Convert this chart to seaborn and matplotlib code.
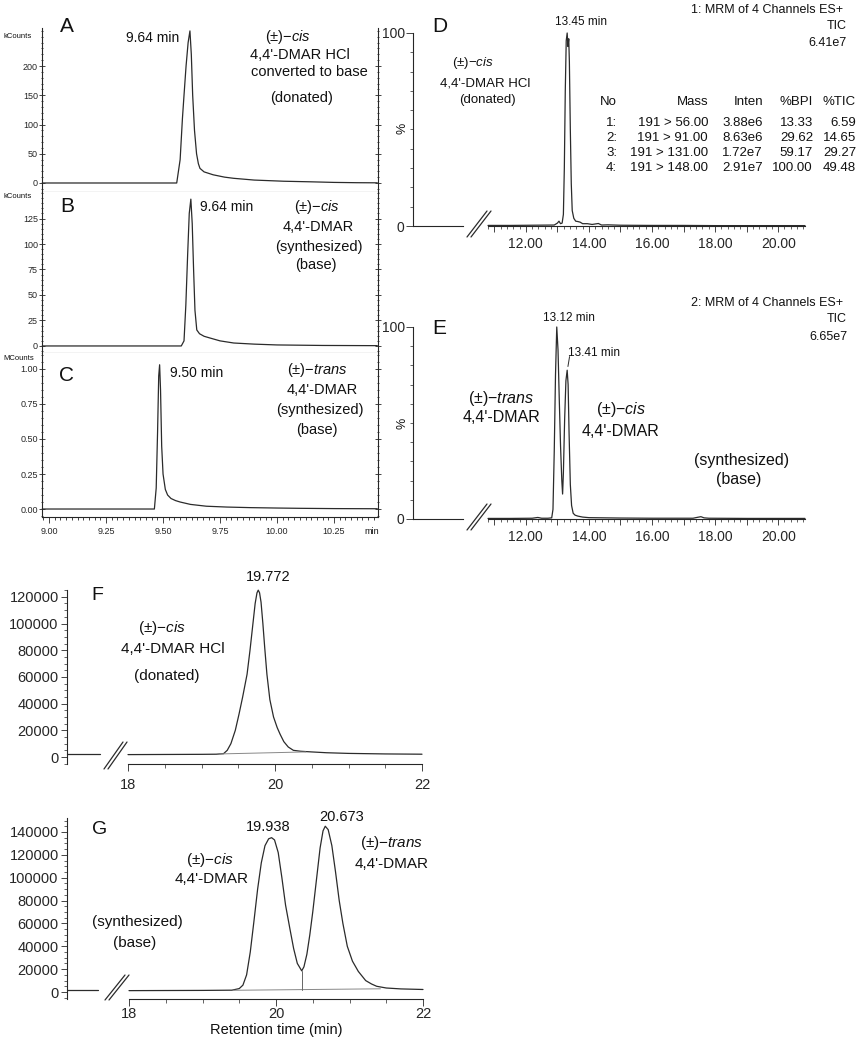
import seaborn as sns
import matplotlib.pyplot as plt
from matplotlib.ticker import MultipleLocator, FuncFormatter, FormatStrFormatter
from matplotlib.lines import Line2D

sns.set_style("ticks")
plt.rcParams['font.family'] = ['Liberation Sans', 'DejaVu Sans']
plt.rcParams['mathtext.fontset'] = 'custom'
plt.rcParams['mathtext.it'] = 'Liberation Sans:italic'
plt.rcParams['mathtext.rm'] = 'Liberation Sans'

# ---- data ----
# A: cis HCl converted to base (kCounts)
A_t = [8.97, 9.20, 9.40, 9.52, 9.560, 9.575, 9.585, 9.592, 9.601, 9.610, 9.618, 9.624, 9.630,
       9.638, 9.647, 9.655, 9.662, 9.68, 9.72, 9.77, 9.81, 9.90, 10.03, 10.15, 10.25, 10.35, 10.44]
A_v = [0, 0, 0, 0, 0, 40, 110, 150, 200, 240, 260, 220, 150,
       90, 50, 33, 25, 19, 14, 10, 8, 5, 3, 2, 1, 0.5, 0.3]
# B: cis synthesized (kCounts)
B_t = [8.97, 9.40, 9.58, 9.592, 9.600, 9.608, 9.615, 9.622, 9.628, 9.634, 9.640, 9.648, 9.66,
       9.68, 9.706, 9.75, 9.81, 9.90, 10.0, 10.2, 10.44]
B_v = [0, 0, 0, 5, 40, 90, 130, 144, 120, 75, 35, 15.7, 12,
       9.5, 7.8, 5, 2.9, 1.8, 1.0, 0.5, 0.3]
# C: trans synthesized (MCounts)
C_t = [8.97, 9.30, 9.45, 9.462, 9.470, 9.476, 9.481, 9.485, 9.489, 9.494, 9.500, 9.510, 9.520,
       9.535, 9.555, 9.575, 9.62, 9.69, 9.78, 9.88, 10.0, 10.10, 10.25, 10.44]
C_v = [0, 0, 0, 0, 0.15, 0.55, 0.95, 1.03, 0.85, 0.45, 0.25, 0.14, 0.10,
       0.075, 0.06, 0.05, 0.033, 0.02, 0.014, 0.01, 0.007, 0.005, 0.003, 0.002]
# D: LC-MS/MS TIC, cis donated (%)
D_t = [10.8, 11.5, 12.2, 12.9, 13.00, 13.05, 13.10, 13.15, 13.19, 13.22, 13.25, 13.28, 13.31,
       13.335, 13.36, 13.38, 13.41, 13.44, 13.47, 13.52, 13.58, 13.65, 13.72, 13.80, 13.95,
       14.1, 14.3, 14.4, 14.6, 15.0, 16.0, 17.0, 18.0, 19.0, 20.0, 20.85]
D_v = [0.3, 0.3, 0.4, 0.5, 1.5, 2.5, 1.2, 1.5, 6, 30, 70, 96, 100,
       93, 97, 85, 50, 22, 8, 4, 2.5, 2.3, 2, 1.2, 1.2,
       0.8, 1.3, 0.5, 0.6, 0.4, 0.3, 0.3, 0.2, 0.2, 0.2, 0.2]
# E: LC-MS/MS TIC, synthesized mixture (%)
E_t = [10.8, 11.5, 12.2, 12.38, 12.5, 12.7, 12.82, 12.86, 12.90, 12.94, 12.98, 13.02, 13.06,
       13.10, 13.14, 13.165, 13.19, 13.23, 13.27, 13.31, 13.34, 13.37, 13.41, 13.45, 13.50,
       13.56, 13.65, 13.8, 14.0, 15.0, 16.0, 17.3, 17.45, 17.55, 17.65, 17.8, 19.0, 20.0, 20.85]
E_v = [0.3, 0.3, 0.4, 0.8, 0.4, 0.4, 0.6, 5, 35, 75, 100, 88, 62,
       38, 20, 13, 24, 52, 72, 77.5, 70, 45, 18, 7, 3,
       2, 1.5, 1, 0.7, 0.5, 0.4, 0.4, 0.9, 1.2, 0.6, 0.4, 0.3, 0.3, 0.3]
# F: HPLC, cis donated
F_left_t = [0, 1]
F_left_v = [2000, 2000]
F_t = [18.0, 18.5, 19.0, 19.2, 19.30, 19.35, 19.40, 19.46, 19.51, 19.56, 19.62, 19.66, 19.70,
       19.73, 19.755, 19.772, 19.79, 19.81, 19.835, 19.86, 19.89, 19.93, 19.98, 20.03, 20.07,
       20.12, 20.18, 20.25, 20.35, 20.5, 20.7, 21.0, 21.5, 22.0]
F_v = [1800, 1900, 2000, 2100, 2500, 5000, 10000, 20000, 32000, 45000, 62000, 80000, 100000,
       115000, 123000, 125000, 123000, 116000, 100000, 82000, 62000, 43000, 30000, 22000, 17000,
       11500, 7500, 5000, 4300, 3800, 3200, 2700, 2300, 2100]
F_base_t = [19.25, 20.42]
F_base_v = [2300, 3800]
# G: HPLC, synthesized mixture
G_left_t = [0, 1]
G_left_v = [1500, 1500]
G_t = [18.0, 18.5, 19.0, 19.4, 19.5, 19.55, 19.60, 19.65, 19.70, 19.75, 19.80, 19.85, 19.90,
       19.94, 19.98, 20.03, 20.08, 20.13, 20.19, 20.24, 20.29, 20.35, 20.38, 20.42, 20.46,
       20.50, 20.55, 20.60, 20.64, 20.67, 20.71, 20.76, 20.81, 20.86, 20.91, 20.97, 21.04,
       21.12, 21.22, 21.30, 21.37, 21.5, 21.7, 22.0]
G_v = [1200, 1300, 1400, 1600, 3000, 6000, 15000, 35000, 62000, 90000, 113000, 128000, 134000,
       135000, 133000, 122000, 100000, 76000, 55000, 38000, 25000, 18500, 22000, 33000, 50000,
       70000, 98000, 126000, 141000, 145000, 142000, 128000, 105000, 80000, 60000, 40000, 27000,
       18000, 10000, 7000, 5000, 3500, 2700, 2200]
G_base_t = [19.42, 21.42]
G_base_v = [1500, 2800]
G_drop_t = [20.35, 20.35]
G_drop_v = [2100, 18500]

# MRM table of panel D
tab_no = ["1:", "2:", "3:", "4:"]
tab_mass = ["191 > 56.00", "191 > 91.00", "191 > 131.00", "191 > 148.00"]
tab_inten = ["3.88e6", "8.63e6", "1.72e7", "2.91e7"]
tab_bpi = ["13.33", "29.62", "59.17", "100.00"]
tab_tic = ["6.59", "14.65", "29.27", "49.48"]

W, H = 858, 1050
INK = '#2b2b2b'
fig = plt.figure(figsize=(W / 100, H / 100), dpi=100)


def rect(l, t, r, b):
    return [l / W, 1 - b / H, (r - l) / W, (b - t) / H]


def txt(x, y, s, size, ha='center', **kw):
    fig.text(x / W, 1 - y / H, s, fontsize=size, ha=ha, va='center', color='#111111', **kw)


def trace(ax, t, v, color=INK, lw=0.9):
    sns.lineplot(x=t, y=v, ax=ax, color=color, lw=lw, estimator=None, sort=False, clip_on=False)


def brk(x0, y0, x1, y1):
    for dx in (0, 4):
        fig.add_artist(Line2D([(x0 + dx) / W, (x1 + dx) / W], [1 - y0 / H, 1 - y1 / H],
                              color=INK, lw=0.9))


# ---- GC-MS panels A-C ----
axA = fig.add_axes(rect(42, 28, 378, 192))
axB = fig.add_axes(rect(42, 192, 378, 353))
axC = fig.add_axes(rect(42, 353, 378, 517))
trace(axA, A_t, A_v)
trace(axB, B_t, B_v)
trace(axC, C_t, C_v)
axA.set_ylim(-15.4, 265)
axB.set_ylim(-6.9, 151)
axC.set_ylim(-0.057, 1.114)
for ax, maj, mnr in [(axA, 50, 10), (axB, 25, 5), (axC, 0.25, 0.05)]:
    ax.set_xlim(8.969, 10.443)
    ax.spines['top'].set_visible(False)
    for s in ['left', 'right', 'bottom']:
        ax.spines[s].set_linewidth(0.8)
    ax.yaxis.set_major_locator(MultipleLocator(maj))
    ax.yaxis.set_minor_locator(MultipleLocator(mnr))
    ax.tick_params(axis='y', which='both', left=True, right=True, direction='inout',
                   labelsize=6.5, pad=1, width=0.6)
    ax.tick_params(axis='y', which='major', length=4)
    ax.tick_params(axis='y', which='minor', length=2)
    ax.set_xlabel('')
    ax.set_ylabel('')
for ax in (axA, axB):
    ax.tick_params(axis='x', which='both', bottom=False, labelbottom=False)
axA.set_yticks([0, 50, 100, 150, 200])
axB.set_yticks([0, 25, 50, 75, 100, 125])
axC.set_yticks([0, 0.25, 0.5, 0.75, 1.0])
axC.yaxis.set_major_formatter(FormatStrFormatter('%.2f'))
axC.set_xticks([9.0, 9.25, 9.5, 9.75, 10.0, 10.25])
axC.xaxis.set_major_formatter(FormatStrFormatter('%.2f'))
axC.xaxis.set_minor_locator(MultipleLocator(0.025))
axC.tick_params(axis='x', which='both', direction='out', labelsize=6.5, width=0.6, pad=3)
axC.tick_params(axis='x', which='major', length=4)
axC.tick_params(axis='x', which='minor', length=2)
txt(372, 531, 'min', 6.5)
txt(3, 36, 'kCounts', 5.5, ha='left')
txt(3, 197, 'kCounts', 5.5, ha='left')
txt(3, 359, 'MCounts', 5.5, ha='left')

txt(67, 27, 'A', 15)
txt(153, 38, '9.64 min', 10)
txt(288, 37, '(±)−$\\mathit{cis}$', 10.5)
txt(300, 55, "4,4'-DMAR HCl", 10.5)
txt(309, 72, 'converted to base', 10.5)
txt(302, 98, '(donated)', 10.5)

txt(67, 207, 'B', 15)
txt(227, 207, '9.64 min', 10)
txt(317, 207, '(±)−$\\mathit{cis}$', 10.5)
txt(318, 227, "4,4'-DMAR", 10.5)
txt(319, 247, '(synthesized)', 10.5)
txt(316, 265, '(base)', 10.5)

txt(67, 375, 'C', 15)
txt(197, 373, '9.50 min', 10)
txt(317, 370, '(±)−$\\mathit{trans}$', 10.5)
txt(322, 390, "4,4'-DMAR", 10.5)
txt(320, 410, '(synthesized)', 10.5)
txt(317, 430, '(base)', 10.5)

# ---- LC-MS/MS panels D, E ----
def mrm_panel(top, bottom, t, v):
    axl = fig.add_axes(rect(413, top, 463, bottom))
    ax = fig.add_axes(rect(488, top, 805, bottom))
    axl.set_xlim(0, 1)
    axl.set_ylim(0, 100)
    axl.spines['top'].set_visible(False)
    axl.spines['right'].set_visible(False)
    axl.set_xticks([])
    axl.set_yticks([0, 100])
    axl.yaxis.set_minor_locator(MultipleLocator(10))
    axl.tick_params(axis='y', which='major', length=5, labelsize=10, width=0.6, pad=1)
    axl.tick_params(axis='y', which='minor', length=2, width=0.5)
    trace(ax, t, v)
    ax.set_xlim(10.8, 20.85)
    ax.set_ylim(0, 100)
    for s in ['top', 'right', 'left']:
        ax.spines[s].set_visible(False)
    ax.set_yticks([])
    ax.xaxis.set_major_locator(MultipleLocator(1))
    ax.xaxis.set_minor_locator(MultipleLocator(0.2))
    ax.xaxis.set_major_formatter(FuncFormatter(
        lambda x, p: f'{x:.2f}' if round(x) % 2 == 0 else ''))
    ax.tick_params(axis='x', which='major', length=4, labelsize=10, width=0.6, pad=4)
    ax.tick_params(axis='x', which='minor', length=2, width=0.5)
    for a in (ax, axl):
        for s in a.spines.values():
            s.set_linewidth(0.8)
        a.set_xlabel('')
        a.set_ylabel('')
    return ax


axD = mrm_panel(33, 226, D_t, D_v)
axE = mrm_panel(327, 519, E_t, E_v)
brk(467, 237, 487, 211)
brk(467, 530, 487, 504)
txt(402, 128, '%', 9, rotation=90)
txt(402, 423, '%', 9, rotation=90)

txt(440, 27, 'D', 15)
txt(581, 22, '13.45 min', 8.5)
txt(473, 63, '(±)−$\\mathit{cis}$', 9.5)
txt(485, 83, "4,4'-DMAR HCl", 9.5)
txt(487, 100, '(donated)', 9.5)
txt(843, 10, '1: MRM of 4 Channels ES+', 9, ha='right')
txt(847, 26, 'TIC', 9, ha='right')
txt(847, 43, '6.41e7', 9, ha='right')
hdr = ['No', 'Mass', 'Inten', '%BPI', '%TIC']
col_r = [617, 708, 763, 813, 856]
for c, h in enumerate(hdr):
    txt(col_r[c], 102, h, 9.5, ha='right')
for r in range(4):
    row = [tab_no[r], tab_mass[r], tab_inten[r], tab_bpi[r], tab_tic[r]]
    for c, s in enumerate(row):
        txt(col_r[c], 123 + 15 * r, s, 9.5, ha='right')

txt(439, 328, 'E', 15)
txt(569, 318, '13.12 min', 8.5)
txt(594, 353, '13.41 min', 8.5)
axE.annotate('', xy=(13.32, 78), xytext=(13.40, 86),
             arrowprops=dict(arrowstyle='-', color=INK, lw=0.7))
txt(501, 398, '(±)−$\\mathit{trans}$', 11.5)
txt(501, 418, "4,4'-DMAR", 11.5)
txt(621, 410, '(±)−$\\mathit{cis}$', 11.5)
txt(621, 432, "4,4'-DMAR", 11.5)
txt(742, 460, '(synthesized)', 11.5)
txt(739, 480, '(base)', 11.5)
txt(843, 303, '2: MRM of 4 Channels ES+', 9, ha='right')
txt(847, 319, 'TIC', 9, ha='right')
txt(847, 337, '6.65e7', 9, ha='right')


# ---- HPLC panels F, G ----
def hplc_panel(top, bottom, left_r, main_l, main_r, ylim, ytop, lt, lv, t, v, xpad):
    axl = fig.add_axes(rect(67, top, left_r, bottom))
    ax = fig.add_axes(rect(main_l, top, main_r, bottom))
    trace(axl, lt, lv)
    axl.set_xlim(0, 1)
    axl.set_ylim(*ylim)
    for s in ['top', 'right', 'bottom']:
        axl.spines[s].set_visible(False)
    axl.set_xticks([])
    axl.set_yticks(list(range(0, ytop + 1, 20000)))
    axl.yaxis.set_minor_locator(MultipleLocator(5000))
    axl.tick_params(axis='y', which='major', length=4, labelsize=10.5, width=0.6, pad=2)
    axl.tick_params(axis='y', which='minor', length=2, width=0.5)
    trace(ax, t, v)
    ax.set_xlim(18, 22)
    ax.set_ylim(*ylim)
    for s in ['top', 'right', 'left']:
        ax.spines[s].set_visible(False)
    ax.set_yticks([])
    ax.set_xticks([18, 20, 22])
    ax.xaxis.set_minor_locator(MultipleLocator(0.5))
    ax.tick_params(axis='x', which='major', length=5, labelsize=10.5, width=0.6, pad=xpad)
    ax.tick_params(axis='x', which='minor', length=3, width=0.5)
    for a in (ax, axl):
        for s in a.spines.values():
            s.set_linewidth(0.8)
        a.set_xlabel('')
        a.set_ylabel('')
    return ax


axF = hplc_panel(590, 764, 100, 128, 422, (-5240, 125100), 120000,
                 F_left_t, F_left_v, F_t, F_v, 5)
trace(axF, F_base_t, F_base_v, color='#888888', lw=0.7)
brk(104, 769, 123, 742)
txt(97, 595, 'F', 14)
txt(268, 577, '19.772', 10.5)
txt(162, 628, '(±)−$\\mathit{cis}$', 11)
txt(173, 649, "4,4'-DMAR HCl", 11)
txt(167, 676, '(donated)', 11)

axG = hplc_panel(818, 999, 98, 129, 423, (-6120, 152200), 140000,
                 G_left_t, G_left_v, G_t, G_v, 1)
trace(axG, G_base_t, G_base_v, color='#888888', lw=0.7)
trace(axG, G_drop_t, G_drop_v, color='#666666', lw=0.7)
brk(105, 1000, 125, 975)
txt(100, 829, 'G', 14)
txt(268, 827, '19.938', 10.5)
txt(342, 817, '20.673', 10.5)
txt(210, 860, '(±)−$\\mathit{cis}$', 11)
txt(212, 879, "4,4'-DMAR", 11)
txt(392, 843, '(±)−$\\mathit{trans}$', 11)
txt(392, 864, "4,4'-DMAR", 11)
txt(137, 922, '(synthesized)', 11)
txt(135, 943, '(base)', 11)
txt(276, 1030, 'Retention time (min)', 10.5)

fig.savefig('out.png', dpi=100, facecolor='white')
